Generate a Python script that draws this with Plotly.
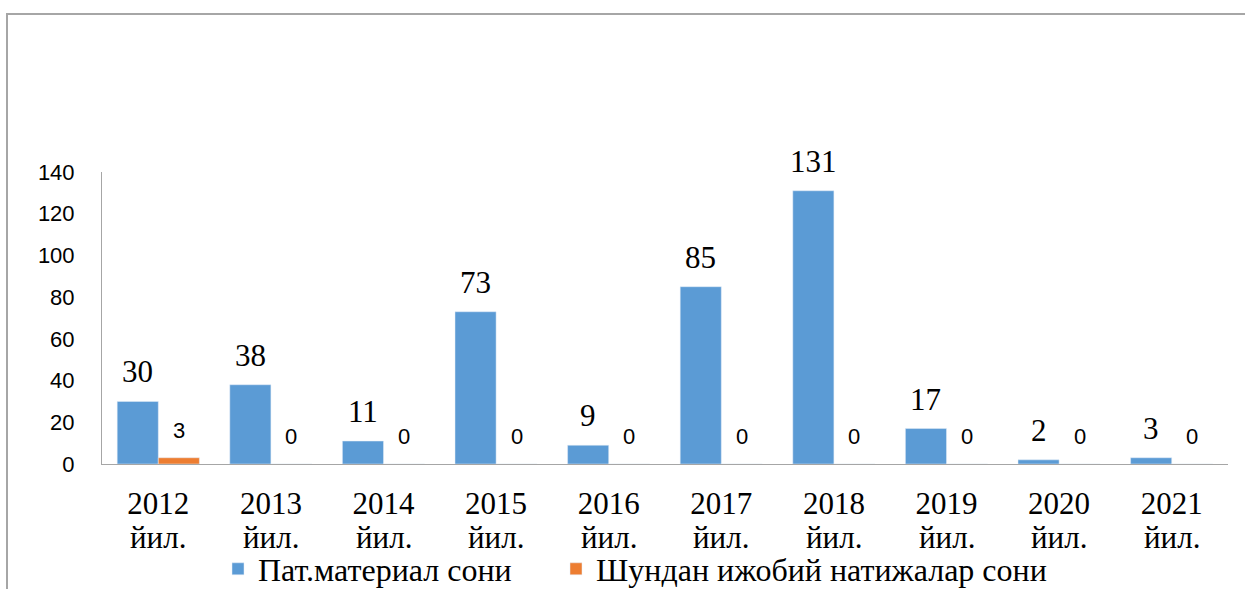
import plotly.graph_objects as go

years = ["2012", "2013", "2014", "2015", "2016", "2017", "2018", "2019", "2020", "2021"]
year_suffix = "йил."
series1_name = "Пат.материал сони"
series2_name = "Шундан ижобий натижалар сони"
series1 = [30, 38, 11, 73, 9, 85, 131, 17, 2, 3]
series2 = [3, 0, 0, 0, 0, 0, 0, 0, 0, 0]
y_ticks = [0, 20, 40, 60, 80, 100, 120, 140]

BLUE = "#5B9BD5"
ORANGE = "#ED7D31"
SERIF = "Liberation Serif"
SANS = "Liberation Sans"

W, H = 1245, 589
ML, MR, MT, MB = 102, 17, 172, 125
PH = H - MT - MB
PW = W - ML - MR
BARGAP = 0.27
half = (1 - BARGAP) / 4  # offset of each bar centre from category centre

idx = list(range(len(years)))

fig = go.Figure()
fig.add_trace(go.Bar(x=idx, y=series1, name=series1_name, marker_color=BLUE, legend="legend"))
fig.add_trace(go.Bar(x=idx, y=series2, name=series2_name, marker_color=ORANGE, legend="legend2"))

annotations = []
for i, v in enumerate(series1):
    annotations.append(dict(x=i - half, y=v, xref="x", yref="y", text=str(v),
                            showarrow=False, yanchor="bottom", yshift=10,
                            font=dict(family=SERIF, size=31, color="black")))
for i, v in enumerate(series2):
    annotations.append(dict(x=i + half, y=v, xref="x", yref="y", text=str(v),
                            showarrow=False, yanchor="bottom", yshift=13,
                            font=dict(family=SANS, size=22, color="black")))
for i in idx:
    annotations.append(dict(x=i, y=-(537 - (H - MB)) / PH, xref="x", yref="paper",
                            text=year_suffix, showarrow=False, yanchor="middle",
                            font=dict(family=SERIF, size=31, color="black")))

legend_common = dict(orientation="h", yanchor="middle", y=-(569 - (H - MB)) / PH,
                     xanchor="left", font=dict(family=SERIF, size=32, color="black"),
                     bgcolor="rgba(0,0,0,0)", borderwidth=0)

fig.update_layout(
    width=W, height=H,
    margin=dict(l=ML, r=MR, t=MT, b=MB, autoexpand=False),
    paper_bgcolor="white", plot_bgcolor="white",
    barmode="group", bargap=BARGAP, bargroupgap=0,
    showlegend=True,
    legend=dict(x=(218 - ML) / PW, **legend_common),
    legend2=dict(x=(556 - ML) / PW, **legend_common),
    xaxis=dict(range=[-0.5, len(years) - 0.5], tickmode="array", tickvals=idx, ticktext=years,
               showgrid=False, zeroline=False, showline=True, linecolor="#A6A6A6", linewidth=1,
               ticks="outside", ticklen=12, tickcolor="rgba(0,0,0,0)",
               tickfont=dict(family=SERIF, size=31, color="black")),
    yaxis=dict(range=[0, 140], tickmode="array", tickvals=y_ticks,
               showgrid=False, zeroline=False, showline=True, linecolor="#A6A6A6", linewidth=1,
               ticks="outside", ticklen=22, tickcolor="rgba(0,0,0,0)",
               tickfont=dict(family=SANS, size=22, color="black")),
    annotations=annotations,
    shapes=[dict(type="rect", xref="paper", yref="paper",
                 x0=(7 - ML) / PW, x1=(W + 10 - ML) / PW,
                 y0=-(H + 10 - (H - MB)) / PH, y1=((H - MB) - 14) / PH,
                 line=dict(color="#A6A6A6", width=2), fillcolor="rgba(0,0,0,0)")],
)

fig.write_html("out.html")
